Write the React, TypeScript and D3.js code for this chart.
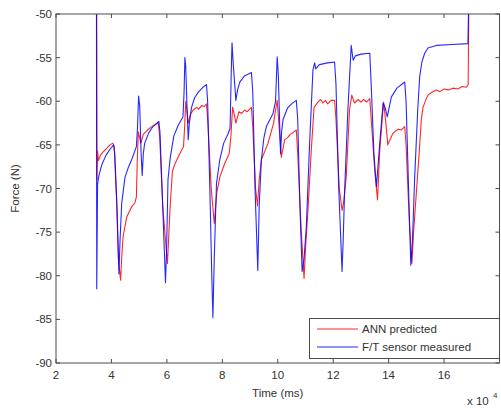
import React from "react";
import { scaleLinear, line } from "d3";

// time in units of 10^4 ms, force in N
const xTicks = [2, 4, 6, 8, 10, 12, 14, 16];
const yTicks = [-50, -55, -60, -65, -70, -75, -80, -85, -90];

const seriesNames = ["ANN predicted", "F/T sensor measured"];
const seriesColors = ["#ff0000", "#0000ff"];

const annT = [3.47, 3.48, 3.5, 3.53, 3.6, 3.7, 3.8, 3.95, 4.05, 4.1, 4.18, 4.25, 4.33, 4.37, 4.42, 4.55, 4.73, 4.85, 4.9, 4.93, 4.97, 5.02, 5.06, 5.15, 5.3, 5.5, 5.69, 5.74, 5.85, 6.02, 6.06, 6.11, 6.2, 6.29, 6.47, 6.6, 6.64, 6.68, 6.72, 6.77, 6.85, 6.95, 7.07, 7.15, 7.25, 7.35, 7.43, 7.47, 7.6, 7.71, 7.76, 7.8, 7.91, 8.09, 8.25, 8.31, 8.37, 8.43, 8.49, 8.6, 8.7, 8.8, 8.9, 9.05, 9.1, 9.2, 9.27, 9.33, 9.41, 9.65, 9.85, 9.92, 9.98, 10.05, 10.13, 10.25, 10.35, 10.45, 10.55, 10.67, 10.72, 10.85, 10.95, 11.0, 11.09, 11.21, 11.31, 11.45, 11.55, 11.63, 11.72, 11.8, 11.92, 12.05, 12.1, 12.22, 12.32, 12.38, 12.47, 12.59, 12.67, 12.77, 12.9, 13.0, 13.1, 13.2, 13.32, 13.37, 13.5, 13.6, 13.68, 13.82, 13.9, 13.97, 14.15, 14.25, 14.35, 14.45, 14.58, 14.63, 14.75, 14.84, 14.9, 15.0, 15.1, 15.18, 15.24, 15.36, 15.42, 15.55, 15.72, 15.85, 16.0, 16.15, 16.32, 16.5, 16.65, 16.8, 16.87, 16.89];
const annF = [-50, -69, -65.7, -66.8, -66.2, -65.8, -65.5, -65.0, -64.8, -65.2, -71, -78, -80.5, -78, -75.5, -73.3, -72.1, -71.6, -71, -67, -63.5, -64.2, -64.8, -63.8, -63.3, -62.8, -62.5, -64, -72, -78.6, -76, -72.5, -68, -67.2, -66, -65.2, -63, -60, -61, -62.5, -61.5, -61.0, -60.7, -60.9, -60.5, -60.6, -60.3, -62, -70, -74, -72, -70.5, -68.7, -67.1, -66, -64, -60.7, -61.5, -62.5, -61.2, -61.4, -61, -61.2, -60.7, -63, -70, -72, -69, -66.7, -64.8, -62.5, -61, -59.9, -63, -66.4, -64.4, -64.2, -63.8, -63.6, -63.3, -66, -75, -80.3, -77, -72.5, -65.6, -60.7, -60.1, -59.8, -60.2, -59.9, -60.3, -59.9, -59.9, -62, -70, -72.5, -71.5, -68.7, -61, -59.3, -60.2, -59.8, -60.1, -59.8, -60.1, -59.7, -62, -68, -71.3, -65.6, -60.1, -62.5, -65, -63.7, -63.4, -63.2, -63.3, -62.9, -65, -74, -78.6, -75, -70.5, -66, -62.1, -60.7, -59.7, -59.3, -59.0, -58.7, -58.9, -58.6, -58.7, -58.5, -58.6, -58.3, -58.4, -58.1, -50];

const ftT = [3.46, 3.47, 3.5, 3.55, 3.65, 3.8, 3.95, 4.08, 4.12, 4.2, 4.27, 4.31, 4.37, 4.49, 4.62, 4.73, 4.9, 4.94, 4.98, 5.02, 5.07, 5.11, 5.15, 5.2, 5.35, 5.5, 5.71, 5.75, 5.85, 5.95, 5.99, 6.04, 6.12, 6.25, 6.4, 6.58, 6.62, 6.65, 6.68, 6.72, 6.77, 6.81, 6.89, 7.0, 7.15, 7.3, 7.43, 7.47, 7.55, 7.62, 7.66, 7.71, 7.79, 7.91, 8.05, 8.21, 8.28, 8.32, 8.35, 8.4, 8.49, 8.55, 8.63, 8.8, 9.05, 9.1, 9.18, 9.28, 9.33, 9.41, 9.5, 9.59, 9.83, 9.92, 9.98, 10.02, 10.1, 10.14, 10.19, 10.35, 10.5, 10.67, 10.72, 10.8, 10.88, 10.95, 11.03, 11.15, 11.27, 11.33, 11.37, 11.5, 11.8, 12.05, 12.1, 12.2, 12.32, 12.36, 12.41, 12.53, 12.65, 12.72, 12.8, 13.0, 13.32, 13.37, 13.47, 13.56, 13.68, 13.8, 13.88, 13.95, 14.1, 14.3, 14.58, 14.63, 14.72, 14.8, 14.86, 14.94, 15.05, 15.12, 15.2, 15.3, 15.42, 15.72, 16.3, 16.86, 16.88];
const ftF = [-50, -81.5, -69.5, -68.5, -67.3, -66.2, -65.5, -65.0, -66, -72, -79.8, -76, -71.7, -68.7, -67.5, -66.7, -65.2, -63, -59.4, -60.5, -66, -68.5, -66, -64.8, -63.6, -62.9, -62.3, -63.5, -72, -80.8, -77, -69, -66.5, -64, -62.8, -61.8, -59, -55, -56, -60, -64.4, -62.5, -60.7, -59.6, -58.9, -58.4, -58.1, -60, -70, -80, -84.8, -78, -69.4, -66.7, -64.8, -63.7, -63.1, -57, -53.3, -56, -59.9, -58.7, -57.8, -57.1, -56.7, -59, -70, -79.4, -72, -66.7, -64.2, -62.9, -61.4, -60, -54.9, -57, -66, -63.5, -62.1, -60.8, -60.3, -59.9, -62, -72, -79.5, -78, -74.4, -64.8, -56.4, -55.6, -56.3, -55.8, -55.6, -55.5, -58, -70, -79.5, -76, -70.5, -61, -53.6, -55.3, -54.8, -54.6, -54.5, -58, -66, -69.8, -64.8, -60.2, -60.8, -61.8, -59.5, -58.5, -57.8, -60, -70, -78.8, -76, -68.7, -61, -57.2, -55.5, -54.5, -53.9, -53.6, -53.5, -53.4, -50];

const W = 501;
const H = 408;
const left = 56;
const right = 499.5;
const top = 14;
const bottom = 363;
const font = "'Liberation Sans', Arial, sans-serif";
const axisColor = "#4d4d4d";

export default function App() {
  const x = scaleLinear().domain([2, 18]).range([left, right]);
  const y = scaleLinear().domain([-90, -50]).range([bottom, top]);

  const path = line<[number, number]>()
    .x((d) => x(d[0]))
    .y((d) => y(d[1]));

  const annData = annT.map((t, i) => [t, annF[i]] as [number, number]);
  const ftData = ftT.map((t, i) => [t, ftF[i]] as [number, number]);

  return (
    <svg width={W} height={H} style={{ position: "absolute", left: 0, top: 0, background: "#fff" }}>
      <defs>
        <clipPath id="plotClip">
          <rect x={left} y={top} width={right - left} height={bottom - top} />
        </clipPath>
      </defs>
      <rect x={0} y={0} width={W} height={H} fill="#fff" />

      <g clipPath="url(#plotClip)" fill="none" strokeWidth={1.1} strokeLinejoin="round">
        <path d={path(annData) || ""} stroke={seriesColors[0]} strokeOpacity={0.85} />
        <path d={path(ftData) || ""} stroke={seriesColors[1]} strokeOpacity={0.85} />
      </g>

      {/* frame and inward ticks */}
      <rect x={left} y={top} width={right - left} height={bottom - top} fill="none" stroke={axisColor} strokeWidth={1} />
      {xTicks.map((t) => (
        <g key={"xt" + t}>
          <line x1={x(t)} x2={x(t)} y1={bottom} y2={bottom - 4} stroke={axisColor} />
          <line x1={x(t)} x2={x(t)} y1={top} y2={top + 4} stroke={axisColor} />
          <text x={x(t)} y={379} textAnchor="middle" fontFamily={font} fontSize={11.5} fill="#333">
            {t}
          </text>
        </g>
      ))}
      {yTicks.map((t) => (
        <g key={"yt" + t}>
          <line x1={left} x2={left + 4} y1={y(t)} y2={y(t)} stroke={axisColor} />
          <line x1={right} x2={right - 4} y1={y(t)} y2={y(t)} stroke={axisColor} />
          <text x={52} y={y(t) + 4} textAnchor="end" fontFamily={font} fontSize={11.5} fill="#333">
            {t}
          </text>
        </g>
      ))}

      <text x={(left + right) / 2} y={397} textAnchor="middle" fontFamily={font} fontSize={11.5} fill="#333">
        Time (ms)
      </text>
      <text x={467} y={405} fontFamily={font} fontSize={11.5} fill="#333">
        x 10
      </text>
      <text x={493} y={398} fontFamily={font} fontSize={8} fill="#333">
        4
      </text>
      <text
        transform={`translate(19,${(top + bottom) / 2}) rotate(-90)`}
        textAnchor="middle"
        fontFamily={font}
        fontSize={11.5}
        fill="#333"
      >
        Force (N)
      </text>

      {/* legend */}
      <rect x={309.5} y={318.5} width={190} height={40} fill="#fff" stroke={axisColor} />
      {seriesNames.map((name, i) => (
        <g key={name}>
          <line x1={317} x2={358} y1={329 + i * 18} y2={329 + i * 18} stroke={seriesColors[i]} strokeOpacity={0.85} />
          <text x={362} y={333 + i * 18} fontFamily={font} fontSize={11.5} fill="#333">
            {name}
          </text>
        </g>
      ))}
    </svg>
  );
}
